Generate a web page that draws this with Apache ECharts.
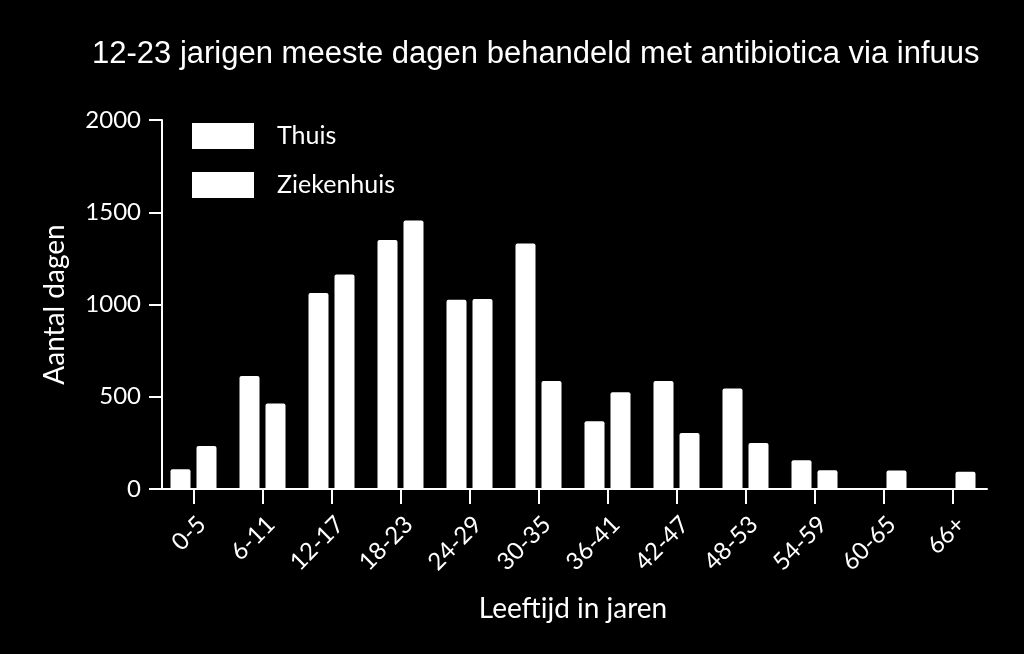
<!DOCTYPE html>
<html>
<head>
<meta charset="utf-8">
<script src="https://cdn.jsdelivr.net/npm/echarts@6/dist/echarts.min.js"></script>
<style>html,body{margin:0;padding:0;background:#000;}#c{width:1024px;height:654px;}</style>
</head>
<body>
<div id="c"></div>
<script>
const categories = ['0-5','6-11','12-17','18-23','24-29','30-35','36-41','42-47','48-53','54-59','60-65','66+'];
const thuis = [107, 612, 1062, 1350, 1026, 1330, 367, 586, 545, 156, 0, 0];
const ziekenhuis = [233, 464, 1162, 1455, 1030, 585, 525, 304, 250, 102, 100, 94];
const yTicks = { min: 0, max: 2000, interval: 500 };

const chart = echarts.init(document.getElementById('c'), null, { renderer: 'canvas' });
const font = 'Lato';
chart.setOption({
  animation: false,
  backgroundColor: '#000',
  title: {
    text: '12-23 jarigen meeste dagen behandeld met antibiotica via infuus',
    left: 87,
    top: 34,
    textStyle: { color: '#fff', fontSize: 31, fontWeight: 'normal', fontFamily: 'Liberation Sans' }
  },
  legend: {
    orient: 'vertical',
    left: 187,
    top: 118,
    itemWidth: 62,
    itemHeight: 26,
    itemGap: 23,
    icon: 'rect',
    data: ['Thuis', 'Ziekenhuis'],
    textStyle: { color: '#fff', fontSize: 25, fontFamily: font, padding: [0, 0, 0, 18] }
  },
  grid: { left: 159, right: 37, top: 120, bottom: 165, containLabel: false },
  xAxis: {
    type: 'category',
    data: categories,
    name: 'Leeftijd in jaren',
    nameLocation: 'middle',
    nameGap: 106,
    nameTextStyle: { color: '#fff', fontSize: 28, fontFamily: font },
    axisLine: { lineStyle: { color: '#fff', width: 2 } },
    axisTick: { show: true, alignWithLabel: true, length: 15, lineStyle: { color: '#fff', width: 2 } },
    axisLabel: { rotate: 45, color: '#fff', fontSize: 24, fontFamily: font, margin: 23, interval: 0, verticalAlign: 'top' }
  },
  yAxis: {
    type: 'value',
    min: yTicks.min, max: yTicks.max, interval: yTicks.interval,
    offset: -3,
    name: 'Aantal dagen',
    nameLocation: 'middle',
    nameGap: 93,
    nameRotate: 90,
    nameTextStyle: { color: '#fff', fontSize: 28, fontFamily: font },
    axisLine: { show: true, lineStyle: { color: '#fff', width: 2 } },
    axisTick: { show: true, length: 13, lineStyle: { color: '#fff', width: 2 } },
    splitLine: { show: false },
    axisLabel: { color: '#fff', fontSize: 24, fontFamily: font, margin: 21, formatter: function (v) { return String(v); } }
  },
  series: [
    { name: 'Thuis', type: 'bar', data: thuis, barWidth: 20, barGap: '30%',
      itemStyle: { color: '#fff', borderRadius: [2, 2, 0, 0] } },
    { name: 'Ziekenhuis', type: 'bar', data: ziekenhuis, barWidth: 20, barGap: '30%',
      itemStyle: { color: '#fff', borderRadius: [2, 2, 0, 0] } }
  ]
});
</script>
</body>
</html>
